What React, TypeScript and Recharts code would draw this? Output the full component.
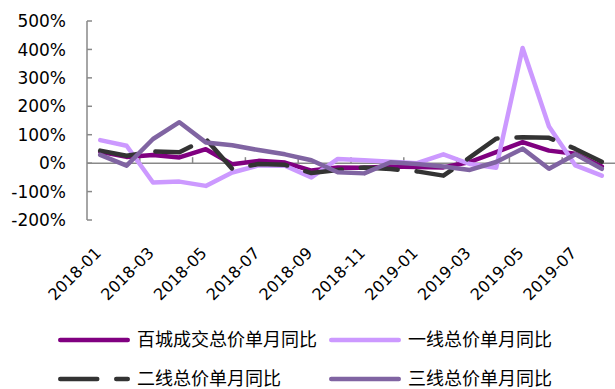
import React from 'react';
import { LineChart, Line, XAxis, YAxis, ReferenceLine, Legend } from 'recharts';

const months = [
  '2018-01', '2018-02', '2018-03', '2018-04', '2018-05', '2018-06', '2018-07', '2018-08', '2018-09', '2018-10',
  '2018-11', '2018-12', '2019-01', '2019-02', '2019-03', '2019-04', '2019-05', '2019-06', '2019-07', '2019-08',
];

// 单月同比, %
const baicheng = [40, 22, 29, 20, 49, -4, 8, 2, -26, -15, -16, -12, -14, -15, 4, 39, 74, 44, 33, -12];
const yixian = [81, 61, -68, -65, -80, -33, -8, -9, -50, 15, 10, 5, 0, 31, -3, -16, 405, 129, -8, -44];
const erxian = [44, 26, 41, 38, 85, -20, -3, -6, -35, -24, -15, -21, -29, -44, 20, 86, 91, 89, 50, 5];
const sanxian = [29, -9, 85, 144, 73, 63, 46, 31, 10, -32, -36, 3, -3, -12, -24, 4, 51, -20, 31, -20];

const yTicks = [-200, -100, 0, 100, 200, 300, 400, 500];
const tickMonths = months.filter((m, i) => i > 0 && i % 2 === 0);

const series = [
  { key: 'baicheng', name: '百城成交总价单月同比', color: '#800080', dash: undefined },
  { key: 'yixian', name: '一线总价单月同比', color: '#CC99FF', dash: undefined },
  { key: 'erxian', name: '二线总价单月同比', color: '#333333', dash: '37 19' },
  { key: 'sanxian', name: '三线总价单月同比', color: '#8064A2', dash: undefined },
];

const data = months.map((month, i) => ({
  month,
  baicheng: baicheng[i],
  yixian: yixian[i],
  erxian: erxian[i],
  sanxian: sanxian[i],
}));

const AXIS = '#898989';
const NUM_FONT = '"DejaVu Sans", sans-serif';

const YTick = (props: any) => {
  const { x, y, payload } = props;
  return (
    <g>
      <line x1={x} x2={x + 5} y1={y} y2={y} stroke={AXIS} strokeWidth={1.5} />
      <text x={x - 21} y={y} dy="0.36em" textAnchor="end" fontSize={17} fontFamily={NUM_FONT} fill="#000">
        {`${payload.value}%`}
      </text>
    </g>
  );
};

const XTick = (props: any) => {
  const { x, y, payload } = props;
  const tx = x + 2;
  const ty = y + 34;
  return (
    <text x={tx} y={ty} transform={`rotate(-45, ${tx}, ${ty})`} textAnchor="end" fontSize={16} fontFamily={NUM_FONT} fill="#000">
      {payload.value}
    </text>
  );
};

const legendSpots = [
  { left: 58, top: 340 },
  { left: 329, top: 340 },
  { left: 58, top: 379 },
  { left: 329, top: 379 },
];

const LegendContent = () => (
  <div style={{ position: 'relative', width: 615, height: 66 }}>
    {series.map((s, i) => {
      const spot = legendSpots[i];
      return (
        <div
          key={s.key}
          style={{
            position: 'absolute',
            left: spot.left,
            top: spot.top - 320 - 5,
            height: 10,
            display: 'flex',
            alignItems: 'center',
            whiteSpace: 'nowrap',
          }}
        >
          <svg width={72} height={10} style={{ display: 'block' }}>
            <line
              x1={2.25}
              x2={69.75}
              y1={5}
              y2={5}
              stroke={s.color}
              strokeWidth={4.5}
              strokeLinecap="round"
              strokeDasharray={s.dash}
            />
          </svg>
          <span
            style={{
              marginLeft: 7,
              marginTop: -5,
              fontSize: 18,
              lineHeight: '18px',
              fontFamily: '"Noto Sans CJK SC", sans-serif',
              color: '#000',
            }}
          >
            {s.name}
          </span>
        </div>
      );
    })}
  </div>
);

export default function App() {
  return (
    <div style={{ position: 'absolute', left: 0, top: 0, width: 615, height: 389, background: '#fff' }}>
      <LineChart width={615} height={389} data={data} margin={{ top: 21, right: 0, bottom: 0, left: 0 }}>
        <XAxis
          dataKey="month"
          scale="band"
          height={169}
          interval={1}
          axisLine={false}
          tickLine={false}
          tickSize={0}
          tickMargin={0}
          tick={<XTick />}
        />
        <YAxis
          width={87}
          domain={[-200, 500]}
          ticks={yTicks}
          interval={0}
          allowDataOverflow
          axisLine={{ stroke: AXIS, strokeWidth: 1.5 }}
          tickLine={false}
          tickSize={0}
          tickMargin={0}
          tick={<YTick />}
        />
        <ReferenceLine y={0} stroke={AXIS} strokeWidth={1.5} />
        {tickMonths.map((m) => (
          <ReferenceLine
            key={m}
            position="start"
            segment={[{ x: m, y: 0 }, { x: m, y: 21 }]}
            stroke={AXIS}
            strokeWidth={1.5}
          />
        ))}
        {series.map((s) => (
          <Line
            key={s.key}
            type="linear"
            dataKey={s.key}
            name={s.name}
            stroke={s.color}
            strokeWidth={4.5}
            strokeDasharray={s.dash}
            strokeLinejoin="round"
            strokeLinecap="round"
            dot={false}
            activeDot={false}
            isAnimationActive={false}
          />
        ))}
        <Legend
          layout="horizontal"
          verticalAlign="middle"
          align="center"
          wrapperStyle={{ top: 320, left: 0, width: 615, height: 66 }}
          content={<LegendContent />}
        />
      </LineChart>
    </div>
  );
}
